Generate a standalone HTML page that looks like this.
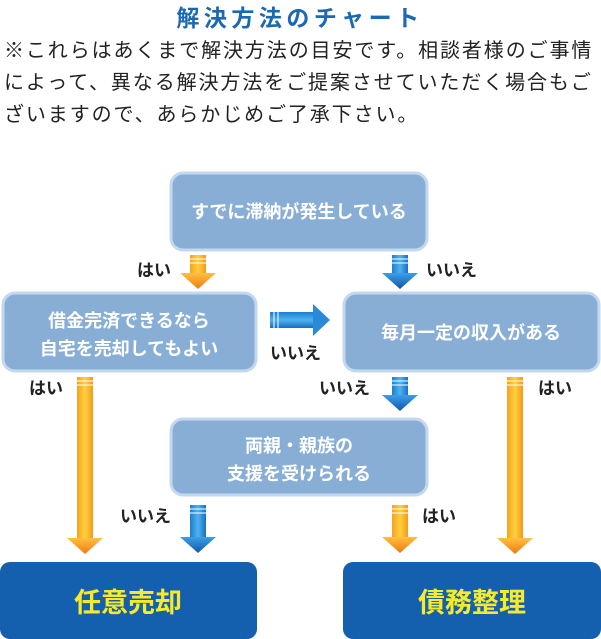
<!DOCTYPE html>
<html><head><meta charset="utf-8"><style>
html,body{margin:0;padding:0;background:#fff;width:601px;height:639px;overflow:hidden}
svg{display:block}
text{font-family:"Liberation Sans","Noto Sans CJK JP",sans-serif}
</style></head><body>
<svg width="601" height="639" viewBox="0 0 601 639" xmlns="http://www.w3.org/2000/svg">
<defs>
<linearGradient id="og" x1="0" x2="1" y1="0" y2="0"><stop offset="0" stop-color="#f7a21b"/><stop offset="0.5" stop-color="#ffd040"/><stop offset="1" stop-color="#f39a18"/></linearGradient>
<linearGradient id="ohd" x1="0" x2="0" y1="0" y2="1"><stop offset="0" stop-color="#ffc040"/><stop offset="1" stop-color="#f07a10"/></linearGradient>
<linearGradient id="bg" x1="0" x2="1" y1="0" y2="0"><stop offset="0" stop-color="#1a7fd0"/><stop offset="0.5" stop-color="#4fb2ee"/><stop offset="1" stop-color="#1670c4"/></linearGradient>
<linearGradient id="bhd" x1="0" x2="0" y1="0" y2="1"><stop offset="0" stop-color="#3aa0e8"/><stop offset="1" stop-color="#1257a8"/></linearGradient>
<linearGradient id="bgh" x1="0" x2="0" y1="0" y2="1"><stop offset="0" stop-color="#1a7fd0"/><stop offset="0.5" stop-color="#4fb2ee"/><stop offset="1" stop-color="#1670c4"/></linearGradient>
</defs>

<text x="300" y="26" text-anchor="middle" font-size="23" font-weight="bold" fill="#1b68b3" letter-spacing="4.5">解決方法のチャート</text>
<g font-size="20" fill="#222" letter-spacing="1.9">
<text x="4" y="57">※これらはあくまで解決方法の目安です。相談者様のご事情</text>
<text x="4" y="89">によって、異なる解決方法をご提案させていただく場合もご</text>
<text x="4" y="121">ざいますので、あらかじめご了承下さい。</text>
</g>

<g fill="#89aed6" stroke="#c3d8ee" stroke-width="3">
<rect x="171" y="173" width="256" height="77" rx="12"/>
<rect x="3" y="293" width="253" height="78" rx="12"/>
<rect x="344" y="293" width="255" height="78" rx="12"/>
<rect x="171" y="419" width="256" height="76" rx="12"/>
</g>
<g fill="#fff" font-size="18" font-weight="bold" text-anchor="middle">
<text x="299" y="218">すでに滞納が発生している</text>
<text x="129" y="327">借金完済できるなら</text>
<text x="129" y="355">自宅を売却してもよい</text>
<text x="471" y="339">毎月一定の収入がある</text>
<text x="299" y="452">両親・親族の</text>
<text x="299" y="480">支援を受けられる</text>
</g>

<rect x="0" y="562" width="257" height="77" rx="10" fill="#1560ae"/>
<rect x="343" y="562" width="258" height="77" rx="10" fill="#1560ae"/>
<g fill="#f6ea2a" font-size="27" font-weight="bold" text-anchor="middle">
<text x="128" y="612">任意売却</text>
<text x="472" y="612">債務整理</text>
</g>

<g>
<rect x="190" y="255" width="16" height="19" fill="url(#og)"/>
<polygon points="180,273 216,273 198,289" fill="url(#ohd)"/>
<rect x="77" y="377" width="16" height="162" fill="url(#og)"/>
<polygon points="67,538 103,538 85,554" fill="url(#ohd)"/>
<rect x="507" y="377" width="16" height="162" fill="url(#og)"/>
<polygon points="497,538 533,538 515,554" fill="url(#ohd)"/>
<rect x="392" y="505" width="16" height="33" fill="url(#og)"/>
<polygon points="382,537 418,537 400,553" fill="url(#ohd)"/>
</g>
<g stroke="#fff" stroke-width="1">
<line x1="190" y1="259" x2="206" y2="259"/><line x1="190" y1="263" x2="206" y2="263"/>
<line x1="77" y1="381" x2="93" y2="381"/><line x1="77" y1="385" x2="93" y2="385"/>
<line x1="507" y1="381" x2="523" y2="381"/><line x1="507" y1="385" x2="523" y2="385"/>
<line x1="392" y1="509" x2="408" y2="509"/><line x1="392" y1="513" x2="408" y2="513"/>
</g>
<g>
<rect x="392" y="255" width="16" height="19" fill="url(#bg)"/>
<polygon points="382,273 418,273 400,289" fill="url(#bhd)"/>
<rect x="392" y="377" width="16" height="19" fill="url(#bg)"/>
<polygon points="382,395 418,395 400,411" fill="url(#bhd)"/>
<rect x="190" y="505" width="16" height="33" fill="url(#bg)"/>
<polygon points="180,537 216,537 198,553" fill="url(#bhd)"/>
<rect x="270" y="312" width="44" height="16" fill="url(#bgh)"/>
<polygon points="313,304 313,336 330,320" fill="#2a8ad8"/>
</g>
<g stroke="#fff" stroke-width="1">
<line x1="392" y1="259" x2="408" y2="259"/><line x1="392" y1="263" x2="408" y2="263"/>
<line x1="392" y1="381" x2="408" y2="381"/><line x1="392" y1="385" x2="408" y2="385"/>
<line x1="190" y1="509" x2="206" y2="509"/><line x1="190" y1="513" x2="206" y2="513"/>
<line x1="274" y1="312" x2="274" y2="328"/><line x1="278" y1="312" x2="278" y2="328"/>
</g>

<g fill="#222" font-size="17" font-weight="bold">
<text x="137" y="276">はい</text>
<text x="426" y="276">いいえ</text>
<text x="270" y="359">いいえ</text>
<text x="29" y="394">はい</text>
<text x="319" y="394">いいえ</text>
<text x="538" y="394">はい</text>
<text x="120" y="522">いいえ</text>
<text x="422" y="522">はい</text>
</g>
</svg>
</body></html>
